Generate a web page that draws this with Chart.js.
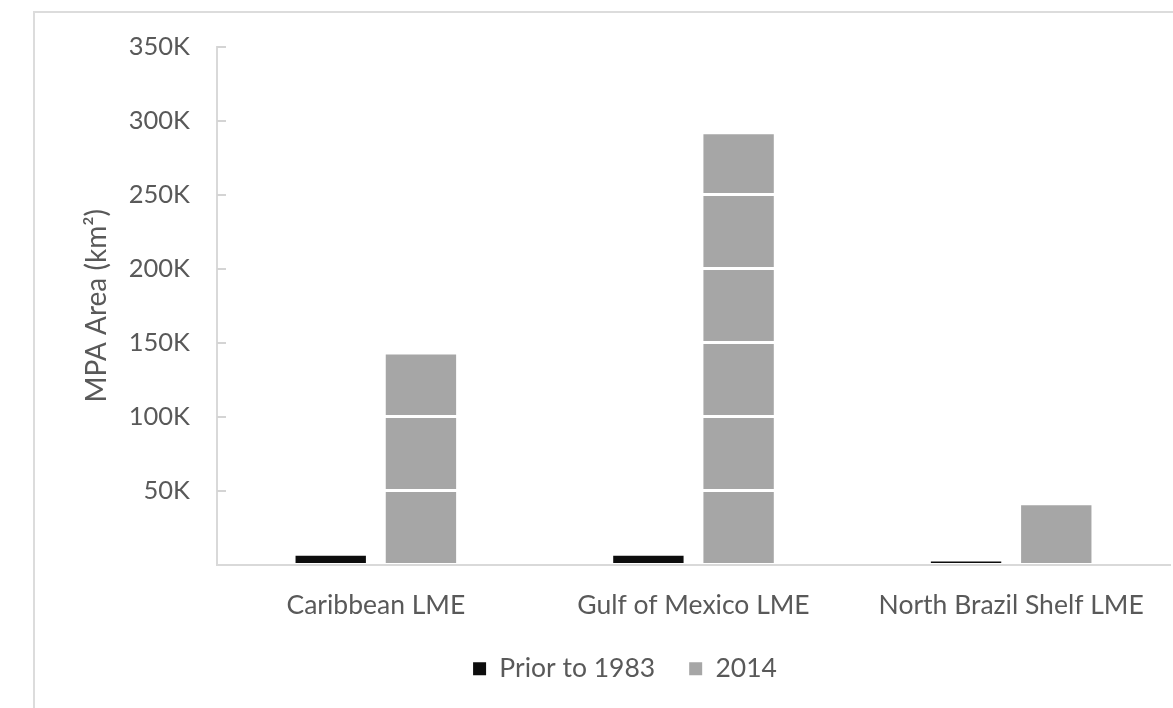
<!DOCTYPE html>
<html>
<head>
<meta charset="utf-8">
<script src="https://cdn.jsdelivr.net/npm/chart.js@4.4.1/dist/chart.umd.min.js"></script>
<style>
  html, body { margin: 0; padding: 0; background: #ffffff; overflow: hidden; }
  #wrap { position: relative; width: 1173px; height: 708px; }
  #frame { position: absolute; left: 33px; top: 11px; width: 1200px; height: 760px;
           border-left: 2px solid #dcdcdc; border-top: 2px solid #dcdcdc; box-sizing: border-box; pointer-events: none; }
  canvas { position: absolute; left: 0; top: 0; }
</style>
</head>
<body>
<div id="wrap">
  <canvas id="c" width="1173" height="708"></canvas>
  <div id="frame"></div>
</div>
<script>
const categories = ["Caribbean LME", "Gulf of Mexico LME", "North Brazil Shelf LME"];
const seriesNames = ["Prior to 1983", "2014"];
const prior1983 = [6000, 6000, 2000];
const year2014 = [142000, 291000, 40000];
const yTicks = [0, 50000, 100000, 150000, 200000, 250000, 300000, 350000];
const yTickLabels = ["", "50K", "100K", "150K", "200K", "250K", "300K", "350K"];

const FONT = "Lato, 'Open Sans', sans-serif";
const TEXT = "#595959";

const insideTicks = {
  id: 'insideTicks',
  afterDraw(chart) {
    const y = chart.scales.y;
    const ctx = chart.ctx;
    ctx.save();
    ctx.strokeStyle = '#d4d4d4';
    ctx.lineWidth = 2;
    yTicks.forEach(v => {
      if (v === 0) return;
      const py = Math.round(y.getPixelForValue(v));
      ctx.beginPath();
      ctx.moveTo(y.right, py);
      ctx.lineTo(y.right + 9, py);
      ctx.stroke();
    });
    ctx.restore();
  }
};

new Chart(document.getElementById('c'), {
  type: 'bar',
  data: {
    labels: categories,
    datasets: [
      { label: seriesNames[0], data: prior1983, backgroundColor: '#0d0d0d', borderWidth: 0 },
      { label: seriesNames[1], data: year2014, backgroundColor: '#a6a6a6', borderWidth: 0 }
    ]
  },
  options: {
    responsive: false,
    animation: false,
    devicePixelRatio: 1,
    layout: { padding: { left: 80, right: 3, top: 47, bottom: 16 } },
    datasets: { bar: { categoryPercentage: 0.568, barPercentage: 0.78 } },
    plugins: {
      legend: {
        position: 'bottom',
        labels: {
          color: TEXT,
          font: { family: FONT, size: 26.5 },
          boxWidth: 13, boxHeight: 13,
          padding: 34
        }
      },
      tooltip: { enabled: false }
    },
    scales: {
      x: {
        grid: { display: false, drawTicks: false },
        border: { display: true, color: '#d9d9d9', width: 2, z: 2 },
        ticks: { color: TEXT, font: { family: FONT, size: 26.5 }, padding: 25 },
        afterFit(s) { s.height = 57; }
      },
      y: {
        min: 0, max: 350000,
        afterBuildTicks(s) { s.ticks = yTicks.map(v => ({ value: v })); },
        afterFit(s) { s.width = 137; },
        grid: {
          z: 1,
          drawTicks: false,
          color: ctx => (ctx.tick && ctx.tick.value === 0) ? 'rgba(0,0,0,0)' : '#ffffff',
          lineWidth: 3
        },
        border: { display: true, color: '#d9d9d9', width: 2, z: 2 },
        ticks: {
          color: TEXT,
          font: { family: FONT, size: 25.5 },
          padding: 27,
          callback: (v, i) => yTickLabels[i]
        },
        title: {
          display: true,
          text: 'MPA Area (km²)',
          color: TEXT,
          font: { family: FONT, size: 28 },
          padding: { top: 0, bottom: 0 }
        }
      }
    }
  },
  plugins: [insideTicks]
});
</script>
</body>
</html>
